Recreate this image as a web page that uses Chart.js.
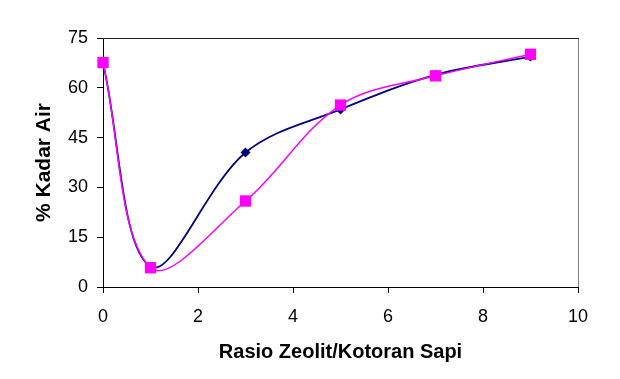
<!DOCTYPE html>
<html>
<head>
<meta charset="utf-8">
<script src="https://cdn.jsdelivr.net/npm/chart.js@4"></script>
<style>
  html, body { margin: 0; padding: 0; background: #ffffff; }
  #wrap { width: 620px; height: 379px; }
</style>
</head>
<body>
<div id="wrap"><canvas id="chart" width="620" height="379"></canvas></div>
<script>
// ## data ##
const rasio = [0, 1, 3, 5, 7, 9];
const kadarNavy = [67.5, 6.1, 40.5, 53.5, 63.9, 69.4];
const kadarPink = [67.6, 5.8, 25.9, 54.8, 63.6, 70.1];
const xTicks = [0, 2, 4, 6, 8, 10];
const yTicks = [0, 15, 30, 45, 60, 75];

function toPoints(xs, ys) {
  return xs.map(function (x, i) {
    return { x: x, y: ys[i] };
  });
}

// frame on top/right like the excel plot area
const frame = {
  id: "frame",
  beforeDatasetsDraw(chart) {
    const a = chart.chartArea;
    const ctx = chart.ctx;
    ctx.save();
    ctx.lineWidth = 1;
    ctx.strokeStyle = "#808080";
    ctx.beginPath();
    ctx.moveTo(a.right + 0.5, a.top);
    ctx.lineTo(a.right + 0.5, a.bottom);
    ctx.stroke();
    ctx.strokeStyle = "#202020";
    ctx.beginPath();
    ctx.moveTo(a.left, a.top + 0.5);
    ctx.lineTo(a.right + 1, a.top + 0.5);
    ctx.stroke();
    ctx.restore();
  },
};

Chart.defaults.font.family = "'Liberation Sans', Arial, sans-serif";
Chart.defaults.color = "#000000";

new Chart(document.getElementById("chart").getContext("2d"), {
  type: "line",
  data: {
    datasets: [
      {
        data: toPoints(rasio, kadarPink),
        borderColor: "#ff00ff",
        backgroundColor: "#ff00ff",
        borderWidth: 1.5,
        pointStyle: "rect",
        pointRadius: 8,
        pointBorderWidth: 0,
        tension: 0.35,
        order: 0,
      },
      {
        data: toPoints(rasio, kadarNavy),
        borderColor: "#000080",
        backgroundColor: "#000080",
        borderWidth: 1.8,
        pointStyle: "rectRot",
        pointRadius: 5,
        pointBorderWidth: 0,
        tension: 0.35,
        order: 1,
      },
    ],
  },
  options: {
    responsive: false,
    animation: false,
    clip: false,
    layout: { padding: { top: 38, right: 42, left: 0, bottom: 0 } },
    plugins: { legend: { display: false }, tooltip: { enabled: false } },
    scales: {
      x: {
        type: "linear",
        min: 0,
        max: 10,
        afterBuildTicks: (scale) => {
          scale.ticks = xTicks.map((v) => ({ value: v }));
        },
        afterFit: (scale) => {
          scale.height = 92;
        },
        grid: { drawOnChartArea: false, drawTicks: true, tickLength: 6, color: "#000000" },
        border: { color: "#000000", width: 1 },
        ticks: { font: { size: 18 }, padding: 13, color: "#000000" },
        title: {
          display: true,
          text: "Rasio Zeolit/Kotoran Sapi",
          font: { size: 20, weight: "bold" },
          padding: { top: 0, bottom: 15 },
          color: "#000000",
        },
      },
      y: {
        min: 0,
        max: 75,
        afterBuildTicks: (scale) => {
          scale.ticks = yTicks.map((v) => ({ value: v }));
        },
        afterFit: (scale) => {
          scale.width = 103;
        },
        grid: { drawOnChartArea: false, drawTicks: true, tickLength: 6, color: "#000000" },
        border: { color: "#000000", width: 1 },
        ticks: { font: { size: 18 }, padding: 9, color: "#000000" },
        title: {
          display: true,
          text: "% Kadar Air",
          font: { size: 21, weight: "bold" },
          padding: { top: 32, bottom: 0 },
          color: "#000000",
        },
      },
    },
  },
  plugins: [frame],
});
</script>
</body>
</html>
